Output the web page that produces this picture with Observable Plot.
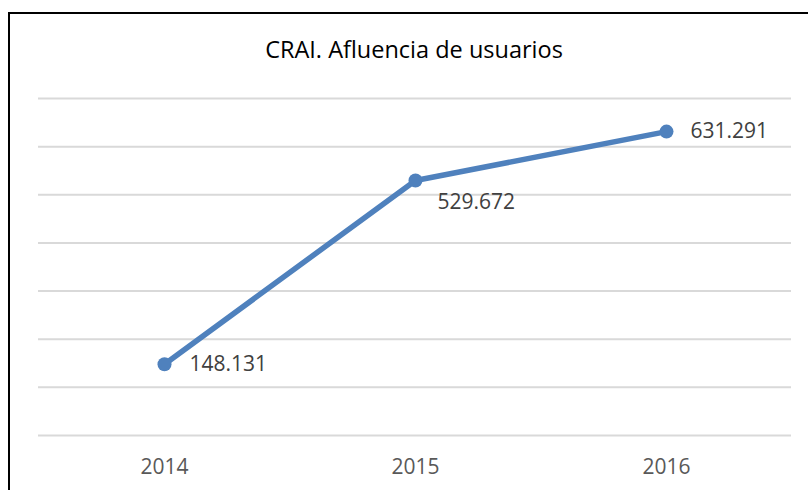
<!DOCTYPE html>
<html><head><meta charset="utf-8">
<script src="https://cdn.jsdelivr.net/npm/d3@7"></script>
<script src="https://cdn.jsdelivr.net/npm/@observablehq/plot@0.6"></script>
<style>
html,body{margin:0;padding:0;background:#fff;overflow:hidden;width:808px;height:490px;}
#wrap{position:relative;width:808px;height:490px;}
#frame{position:absolute;left:8px;top:12px;width:900px;height:600px;border:2px solid #000;box-sizing:border-box;}
#title{position:absolute;left:0;top:33px;width:828px;text-align:center;font-family:"Open Sans";font-size:23.5px;color:#000;}
#chart{position:absolute;left:0;top:0;}
</style></head>
<body><div id="wrap"><div id="frame"></div><div id="title">CRAI. Afluencia de usuarios</div><div id="chart"></div></div>
<script>
const years = ["2014", "2015", "2016"];
const visitors = [148131, 529672, 631291];
const labelDx = [25, 22, 24];
const labelDy = [0, 22, 0];
const yTicks = [0, 100000, 200000, 300000, 400000, 500000, 600000, 700000];

const data = years.map((y, i) => ({year: y, value: visitors[i], dx: labelDx[i], dy: labelDy[i]}));
const fmt = d3.formatLocale({decimal: ",", thousands: ".", grouping: [3], currency: ["", "€"]}).format(",");
const color = "#4F81BD";

const chart = Plot.plot({
  width: 808, height: 490,
  marginLeft: 38, marginRight: 17, marginTop: 98, marginBottom: 55,
  style: {fontFamily: "Open Sans", background: "transparent", overflow: "visible"},
  x: {type: "point", domain: years, padding: 0.5, axis: null},
  y: {domain: [0, 700000], axis: null},
  marks: [
    Plot.ruleY(yTicks, {stroke: "#d9d9d9", strokeWidth: 2}),
    Plot.axisX({tickSize: 0, tickPadding: 0, dy: 24, fontSize: 21, fill: "#595959", label: null}),
    Plot.line(data, {x: "year", y: "value", stroke: color, strokeWidth: 5.5}),
    Plot.dot(data, {x: "year", y: "value", r: 7, fill: color, stroke: null}),
    ...data.map(d => Plot.text([d], {x: "year", y: "value", text: d => fmt(d.value), dx: d.dx, dy: d.dy, textAnchor: "start", fontSize: 21, fill: "#404040"}))
  ]
});
document.getElementById("chart").appendChild(chart);
</script></body></html>
